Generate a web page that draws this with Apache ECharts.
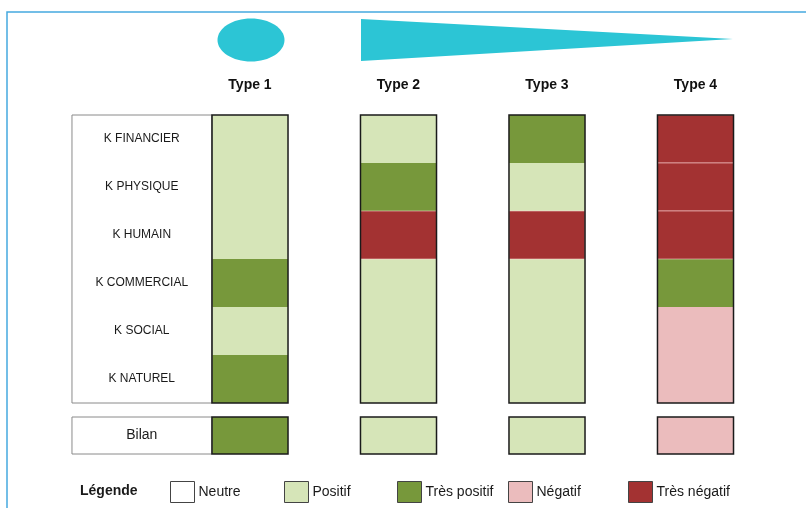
<!DOCTYPE html>
<html>
<head>
<meta charset="utf-8">
<script src="https://cdn.jsdelivr.net/npm/echarts@6/dist/echarts.min.js"></script>
<style>
html,body{margin:0;padding:0;background:#fff;}
#chart{width:806px;height:508px;}
</style>
</head>
<body>
<div id="chart"></div>
<script>
// ---- data ----
var types = ['Type 1', 'Type 2', 'Type 3', 'Type 4'];
var rows = ['K FINANCIER', 'K PHYSIQUE', 'K HUMAIN', 'K COMMERCIAL', 'K SOCIAL', 'K NATUREL'];
var levels = ['Neutre', 'Positif', 'Très positif', 'Négatif', 'Très négatif'];
var type1 = ['Positif', 'Positif', 'Positif', 'Très positif', 'Positif', 'Très positif'];
var type2 = ['Positif', 'Très positif', 'Très négatif', 'Positif', 'Positif', 'Positif'];
var type3 = ['Très positif', 'Positif', 'Très négatif', 'Positif', 'Positif', 'Positif'];
var type4 = ['Très négatif', 'Très négatif', 'Très négatif', 'Très positif', 'Négatif', 'Négatif'];
var bilanLabel = ['Bilan'];
var bilan = ['Très positif', 'Positif', 'Positif', 'Négatif'];

// ---- styles ----
var levelColors = {
  'Neutre': '#ffffff',
  'Positif': '#d6e5b8',
  'Très positif': '#77983b',
  'Négatif': '#ebbcbd',
  'Très négatif': '#a33232'
};
var levelSeparators = {
  'Neutre': null,
  'Positif': null,
  'Très positif': null,
  'Négatif': null,
  'Très négatif': 'rgba(255,215,215,0.55)'
};
var SANS = "'Liberation Sans', Arial, sans-serif";
var COL_FRAC = 0.512;
var LABEL_BOX_W = 140;

var matrix = [type1, type2, type3, type4];

function cellRender(lv) {
  return function (params, api) {
    var c = api.coord([api.value(0), api.value(1)]);
    var bw = api.size([1, 0])[0] * COL_FRAC;
    var bh = api.size([0, 1])[1];
    var sep = levelSeparators[lv];
    return {
      type: 'rect',
      shape: { x: c[0] - bw / 2, y: c[1] - bh / 2, width: bw, height: bh },
      style: { fill: api.visual('color'), stroke: sep, lineWidth: sep ? 1 : 0 }
    };
  };
}

function frameRender(nRows) {
  return function (params, api) {
    var c = api.coord([api.value(0), 0]);
    var bw = api.size([1, 0])[0] * COL_FRAC;
    var bh = api.size([0, 1])[1];
    return {
      type: 'rect',
      shape: { x: c[0] - bw / 2, y: c[1] - bh / 2, width: bw, height: bh * nRows },
      style: { fill: null, stroke: '#1a1a1a', lineWidth: 1.5 },
      z2: 10
    };
  };
}

function labelBoxRender(nRows) {
  return function (params, api) {
    var c = api.coord([0, 0]);
    var bw = api.size([1, 0])[0] * COL_FRAC;
    var bh = api.size([0, 1])[1];
    var right = c[0] - bw / 2;
    return {
      type: 'rect',
      shape: { x: right - LABEL_BOX_W, y: c[1] - bh / 2, width: LABEL_BOX_W, height: bh * nRows },
      style: { fill: null, stroke: '#8a8a8a', lineWidth: 1 }
    };
  };
}

var series = [];
levels.forEach(function (lv) {
  var d0 = [];
  matrix.forEach(function (col, ti) {
    col.forEach(function (v, ri) { if (v === lv) d0.push([ti, ri]); });
  });
  var d1 = [];
  bilan.forEach(function (v, ti) { if (v === lv) d1.push([ti, 0]); });
  series.push({
    name: lv, type: 'custom', xAxisIndex: 0, yAxisIndex: 0,
    itemStyle: { color: levelColors[lv] },
    renderItem: cellRender(lv), data: d0
  });
  series.push({
    name: lv, type: 'custom', xAxisIndex: 1, yAxisIndex: 1,
    itemStyle: { color: levelColors[lv] },
    renderItem: cellRender(lv), data: d1
  });
});
series.push({
  name: 'frame', type: 'custom', xAxisIndex: 0, yAxisIndex: 0, silent: true, z: 5,
  renderItem: frameRender(rows.length), data: types.map(function (t, i) { return [i]; })
});
series.push({
  name: 'frameB', type: 'custom', xAxisIndex: 1, yAxisIndex: 1, silent: true, z: 5,
  renderItem: frameRender(bilanLabel.length), data: types.map(function (t, i) { return [i]; })
});
series.push({
  name: 'labelbox', type: 'custom', xAxisIndex: 0, yAxisIndex: 0, silent: true,
  renderItem: labelBoxRender(rows.length), data: [[0]]
});
series.push({
  name: 'labelboxB', type: 'custom', xAxisIndex: 1, yAxisIndex: 1, silent: true,
  renderItem: labelBoxRender(bilanLabel.length), data: [[0]]
});

var legendLefts = [170, 284, 397, 508, 628];
var legends = levels.map(function (lv, i) {
  return {
    left: legendLefts[i], top: 481, padding: 0,
    itemWidth: 24, itemHeight: 21, itemGap: 0,
    selectedMode: false,
    textStyle: { fontFamily: SANS, fontSize: 14, color: '#1a1a1a', padding: [0, 0, 0, -1] },
    data: [{ name: lv, icon: 'rect', itemStyle: { color: levelColors[lv], borderColor: '#444', borderWidth: 1 } }]
  };
});

var chart = echarts.init(document.getElementById('chart'), null, { renderer: 'canvas' });
chart.setOption({
  backgroundColor: '#ffffff',
  animation: false,
  title: {
    text: 'Légende', left: 80, top: 484, padding: 0,
    textStyle: { fontFamily: SANS, fontSize: 14, fontWeight: 'bold', color: '#1a1a1a' }
  },
  legend: legends,
  graphic: [
    { type: 'polyline', shape: { points: [[7, 508], [7, 12], [806, 12]] }, style: { stroke: '#45a9df', lineWidth: 1.5, fill: null } },
    { type: 'ellipse', shape: { cx: 251, cy: 40, rx: 33.5, ry: 21.5 }, style: { fill: '#2cc5d5' } },
    { type: 'polygon', shape: { points: [[361, 19], [361, 61], [733, 39]] }, style: { fill: '#2cc5d5' } }
  ],
  grid: [
    { left: 175.75, right: 36.25, top: 115, height: 288 },
    { left: 175.75, right: 36.25, top: 417, height: 37 }
  ],
  xAxis: [
    {
      gridIndex: 0, type: 'category', data: types, position: 'top',
      axisLine: { show: false }, axisTick: { show: false }, splitLine: { show: false },
      axisLabel: { margin: 23, fontFamily: SANS, fontSize: 14, fontWeight: 'bold', color: '#111' }
    },
    {
      gridIndex: 1, type: 'category', data: types,
      axisLine: { show: false }, axisTick: { show: false }, axisLabel: { show: false }, splitLine: { show: false }
    }
  ],
  yAxis: [
    {
      gridIndex: 0, type: 'category', data: rows, inverse: true,
      axisLine: { show: false }, axisTick: { show: false }, splitLine: { show: false },
      axisLabel: { margin: 34, align: 'center', fontFamily: SANS, fontSize: 12, color: '#1a1a1a' }
    },
    {
      gridIndex: 1, type: 'category', data: bilanLabel, inverse: true,
      axisLine: { show: false }, axisTick: { show: false }, splitLine: { show: false },
      axisLabel: { margin: 34, align: 'center', fontFamily: SANS, fontSize: 14, color: '#1a1a1a' }
    }
  ],
  series: series
});
</script>
</body>
</html>
